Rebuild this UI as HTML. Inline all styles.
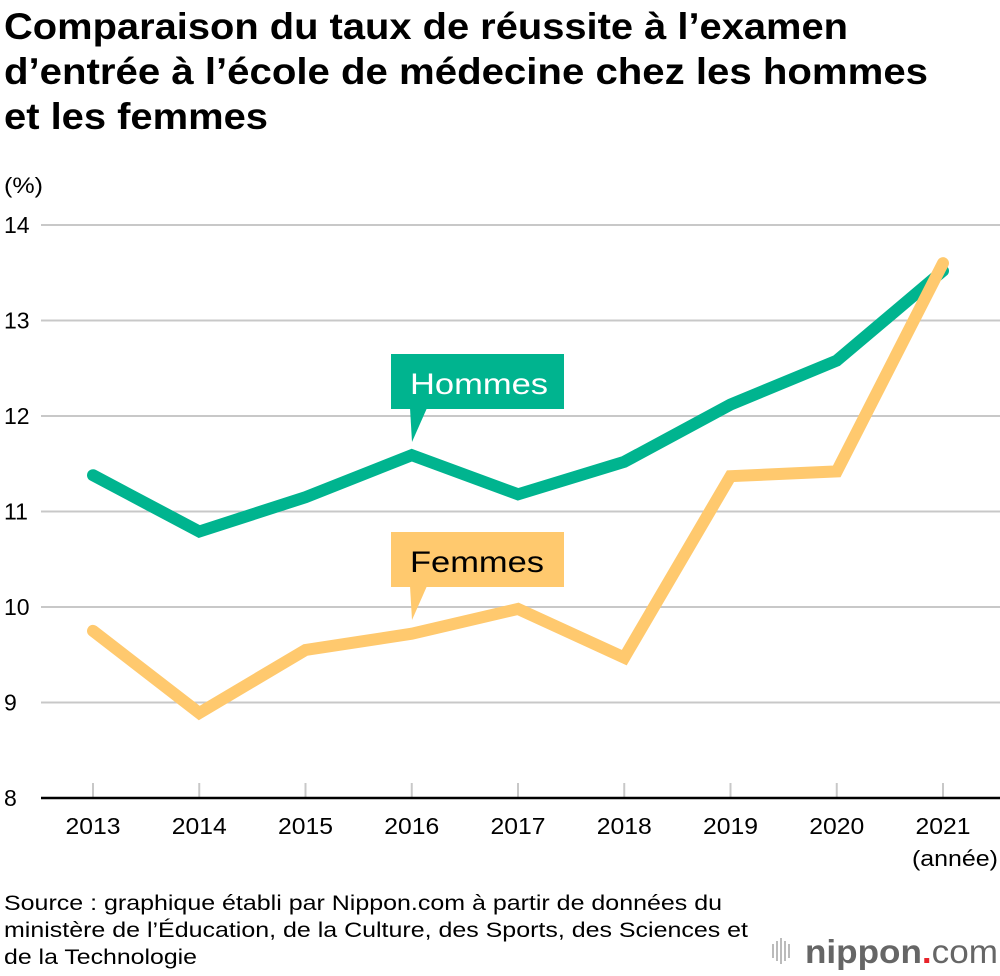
<!DOCTYPE html>
<html><head><meta charset="utf-8"><style>
html,body{margin:0;padding:0;background:#fff;}
svg{display:block;font-family:"Liberation Sans",Arial,sans-serif;}
</style></head><body>
<svg id="chart" width="1000" height="976" viewBox="0 0 1000 976">
<g font-size="37" font-weight="bold" fill="#000" lengthAdjust="spacingAndGlyphs">
<text x="4" y="39" textLength="844" lengthAdjust="spacingAndGlyphs">Comparaison du taux de réussite à l’examen</text>
<text x="4" y="84" textLength="924" lengthAdjust="spacingAndGlyphs">d’entrée à l’école de médecine chez les hommes</text>
<text x="4" y="129" textLength="264" lengthAdjust="spacingAndGlyphs">et les femmes</text>
</g>
<text x="4" y="193" font-size="22" textLength="39" lengthAdjust="spacingAndGlyphs">(%)</text>
<g id="grid"></g>
<g id="xaxis"></g>
<g id="series"></g>
<g>
<rect x="391" y="354" width="173" height="55" fill="#00b48f"/>
<polygon points="410,408 427,408 412,442" fill="#00b48f"/>
<text x="410" y="394" font-size="30" fill="#fff" textLength="138" lengthAdjust="spacingAndGlyphs">Hommes</text>
</g>
<g>
<rect x="391" y="532" width="173" height="55" fill="#ffc96e"/>
<polygon points="410,586 427,586 412,620" fill="#ffc96e"/>
<text x="410" y="572" font-size="30" fill="#000" textLength="134" lengthAdjust="spacingAndGlyphs">Femmes</text>
</g>
<text x="912" y="866" font-size="22" textLength="86" lengthAdjust="spacingAndGlyphs">(année)</text>
<g font-size="21">
<text x="4" y="910" textLength="718" lengthAdjust="spacingAndGlyphs">Source : graphique établi par Nippon.com à partir de données du</text>
<text x="4" y="937" textLength="744" lengthAdjust="spacingAndGlyphs">ministère de l’Éducation, de la Culture, des Sports, des Sciences et</text>
<text x="4" y="964" textLength="193" lengthAdjust="spacingAndGlyphs">de la Technologie</text>
</g>
<g>
<g fill="#bbb">
<rect x="772" y="944" width="2" height="14"/><rect x="776" y="941" width="2" height="20"/><rect x="780" y="938" width="2" height="26"/><rect x="784" y="941" width="2" height="20"/><rect x="788" y="944" width="2" height="14"/>
</g>
<text x="805" y="963" font-size="33" font-weight="bold" fill="#666" textLength="193" lengthAdjust="spacingAndGlyphs">nippon<tspan fill="#e8232a">.</tspan><tspan font-weight="normal">com</tspan></text>
</g>
</svg>
<script>
const years = ["2013","2014","2015","2016","2017","2018","2019","2020","2021"];
const hommes = [11.38, 10.79, 11.15, 11.59, 11.18, 11.52, 12.12, 12.58, 13.52];
const femmes = [9.75, 8.89, 9.55, 9.72, 9.98, 9.47, 11.37, 11.42, 13.6];
const yTicks = [8, 9, 10, 11, 12, 13, 14];

const NS = "http://www.w3.org/2000/svg";
const x = i => 93 + i * 106.25;
const y = v => 798 - (v - 8) * 95.5;
function mk(tag, attrs, parent){const e=document.createElementNS(NS,tag);for(const k in attrs)e.setAttribute(k,attrs[k]);parent.appendChild(e);return e;}

const grid = document.getElementById('grid');
yTicks.forEach(t => {
  if (t !== 8) {
    const l = mk('line',{x1:41,x2:1000,y1:y(t),y2:y(t),stroke:'#c8c8c8','stroke-width':2},grid);
    
    
  }
  const tx = mk('text',{x:4,y:y(t)+8,'font-size':23},grid);
  tx.textContent = t;
  
  
});
const xa = document.getElementById('xaxis');
years.forEach((yr,i) => {
  const tk = mk('line',{x1:x(i),x2:x(i),y1:783,y2:797,stroke:'#c8c8c8','stroke-width':2},xa);
  
  
  const tx = mk('text',{x:x(i),y:834,'font-size':23,'text-anchor':'middle',textLength:55,lengthAdjust:'spacingAndGlyphs'},xa);
  tx.textContent = yr;
  
  
});
const ax = mk('line',{x1:41,x2:1000,y1:798,y2:798,stroke:'#000','stroke-width':2.5},xa);



const s = document.getElementById('series');
function line(vals,color,name){
  const p = mk('polyline',{points:vals.map((v,i)=>x(i)+','+y(v)).join(' '),fill:'none',stroke:color,'stroke-width':12,'stroke-linejoin':'miter','stroke-linecap':'round'},s);
  
  
}
line(hommes,'#00b48f','hommes-line');
line(femmes,'#ffc96e','femmes-line');
</script>
</body></html>
